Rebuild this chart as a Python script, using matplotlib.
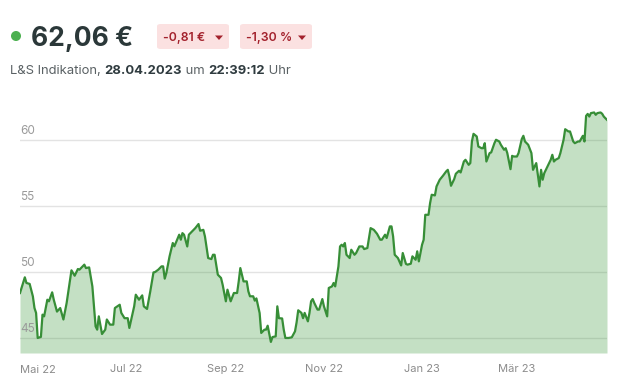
import matplotlib
matplotlib.use("Agg")
import matplotlib.pyplot as plt
from matplotlib.patches import FancyBboxPatch, Polygon, Circle
import pandas as pd

plt.rcParams['font.family'] = ['Inter', 'DejaVu Sans']

# Kursverlauf
dates = [
    "2022-04-26", "2022-04-29", "2022-04-30", "2022-05-02", "2022-05-04", "2022-05-05",
    "2022-05-06", "2022-05-07", "2022-05-09", "2022-05-10", "2022-05-11", "2022-05-13",
    "2022-05-14", "2022-05-16", "2022-05-17", "2022-05-19", "2022-05-21", "2022-05-23",
    "2022-05-25", "2022-05-28", "2022-05-30", "2022-06-01", "2022-06-02", "2022-06-05",
    "2022-06-06", "2022-06-08", "2022-06-10", "2022-06-12", "2022-06-13", "2022-06-14",
    "2022-06-16", "2022-06-18", "2022-06-19", "2022-06-21", "2022-06-23", "2022-06-24",
    "2022-06-27", "2022-06-28", "2022-06-30", "2022-07-02", "2022-07-03", "2022-07-06",
    "2022-07-07", "2022-07-09", "2022-07-11", "2022-07-12", "2022-07-14", "2022-07-16",
    "2022-07-18", "2022-07-19", "2022-07-21", "2022-07-23", "2022-07-24", "2022-07-25",
    "2022-07-26", "2022-07-28", "2022-07-30", "2022-07-31", "2022-08-03", "2022-08-04",
    "2022-08-05", "2022-08-06", "2022-08-08", "2022-08-09", "2022-08-11", "2022-08-13",
    "2022-08-15", "2022-08-16", "2022-08-18", "2022-08-19", "2022-08-21", "2022-08-23",
    "2022-08-24", "2022-08-25", "2022-08-27", "2022-08-29", "2022-08-30", "2022-09-01",
    "2022-09-02", "2022-09-04", "2022-09-06", "2022-09-08", "2022-09-09", "2022-09-10",
    "2022-09-12", "2022-09-14", "2022-09-15", "2022-09-16", "2022-09-18", "2022-09-19",
    "2022-09-20", "2022-09-22", "2022-09-23", "2022-09-25", "2022-09-26", "2022-09-27",
    "2022-09-29", "2022-09-30", "2022-10-02", "2022-10-03", "2022-10-04", "2022-10-06",
    "2022-10-07", "2022-10-08", "2022-10-10", "2022-10-12", "2022-10-14", "2022-10-15",
    "2022-10-16", "2022-10-18", "2022-10-19", "2022-10-20", "2022-10-22", "2022-10-23",
    "2022-10-24", "2022-10-25", "2022-10-26", "2022-10-28", "2022-10-29", "2022-10-31",
    "2022-11-01", "2022-11-03", "2022-11-04", "2022-11-06", "2022-11-07", "2022-11-08",
    "2022-11-10", "2022-11-11", "2022-11-12", "2022-11-13", "2022-11-14", "2022-11-15",
    "2022-11-17", "2022-11-18", "2022-11-20", "2022-11-21", "2022-11-23", "2022-11-25",
    "2022-11-26", "2022-11-28", "2022-11-30", "2022-12-02", "2022-12-04", "2022-12-06",
    "2022-12-07", "2022-12-09", "2022-12-10", "2022-12-12", "2022-12-13", "2022-12-14",
    "2022-12-15", "2022-12-17", "2022-12-19", "2022-12-20", "2022-12-22", "2022-12-23",
    "2022-12-25", "2022-12-26", "2022-12-28", "2022-12-29", "2022-12-30", "2023-01-01",
    "2023-01-02", "2023-01-03", "2023-01-05", "2023-01-06", "2023-01-07", "2023-01-09",
    "2023-01-10", "2023-01-12", "2023-01-14", "2023-01-16", "2023-01-17", "2023-01-18",
    "2023-01-19", "2023-01-21", "2023-01-22", "2023-01-24", "2023-01-25", "2023-01-27",
    "2023-01-28", "2023-01-30", "2023-01-31", "2023-02-01", "2023-02-02", "2023-02-04",
    "2023-02-05", "2023-02-07", "2023-02-08", "2023-02-09", "2023-02-10", "2023-02-12",
    "2023-02-13", "2023-02-15", "2023-02-16", "2023-02-18", "2023-02-19", "2023-02-21",
    "2023-02-22", "2023-02-23", "2023-02-25", "2023-02-26", "2023-02-27", "2023-03-01",
    "2023-03-02", "2023-03-04", "2023-03-05", "2023-03-06", "2023-03-08", "2023-03-10",
    "2023-03-11", "2023-03-13", "2023-03-14", "2023-03-15", "2023-03-16", "2023-03-17",
    "2023-03-18", "2023-03-20", "2023-03-22", "2023-03-23", "2023-03-24", "2023-03-25",
    "2023-03-27", "2023-03-28", "2023-03-30", "2023-03-31", "2023-04-02", "2023-04-03",
    "2023-04-05", "2023-04-06", "2023-04-08", "2023-04-09", "2023-04-11", "2023-04-12",
    "2023-04-13", "2023-04-14", "2023-04-15", "2023-04-16", "2023-04-18", "2023-04-19",
    "2023-04-20", "2023-04-22", "2023-04-23", "2023-04-24", "2023-04-26",
]
prices = [
    48.41, 49.60, 49.17, 49.10, 48.16, 47.27,
    46.90, 45.00, 45.08, 46.77, 46.64, 47.90,
    47.78, 48.46, 47.90, 47.00, 47.27, 46.40,
    47.65, 50.13, 49.72, 50.23, 50.18, 50.56,
    50.30, 50.35, 48.91, 45.88, 45.63, 46.64,
    45.30, 45.63, 46.40, 46.01, 46.01, 47.27,
    47.52, 46.90, 46.50, 46.50, 45.76, 47.40,
    48.28, 47.90, 48.23, 47.40, 47.20, 48.53,
    49.97, 50.00, 50.18, 50.43, 50.43, 49.50,
    49.92, 51.19, 52.20, 51.95, 52.83, 52.45,
    52.95, 52.83, 51.94, 52.83, 53.08, 53.33,
    53.64, 53.13, 53.20, 52.70, 51.06, 50.98,
    51.31, 51.31, 49.80, 49.55, 49.04, 47.78,
    48.66, 47.78, 48.41, 48.41, 49.29, 50.30,
    49.29, 49.29, 48.53, 48.16, 48.16, 47.83,
    48.00, 46.89, 45.38, 45.63, 45.63, 45.93,
    44.70, 45.07, 45.12, 47.40, 46.50, 46.48,
    45.63, 45.00, 45.00, 45.05, 45.50, 46.19,
    47.10, 46.90, 46.50, 46.90, 46.26, 46.90,
    47.78, 47.95, 47.65, 47.15, 47.15, 47.95,
    47.40, 46.64, 48.79, 48.91, 49.17, 48.91,
    50.43, 51.94, 52.07, 51.94, 52.20, 51.31,
    51.06, 51.69, 51.31, 51.44, 51.94, 51.94,
    51.74, 51.82, 53.33, 53.20, 52.90, 52.45,
    52.45, 52.83, 52.58, 53.46, 53.46, 52.70,
    51.31, 51.06, 50.50, 51.44, 50.61, 50.56,
    50.63, 51.19, 50.93, 51.57, 50.81, 52.07,
    52.45, 54.34, 54.34, 55.23, 55.86, 55.81,
    56.49, 57.00, 57.30, 57.63, 57.75, 57.25,
    56.54, 57.05, 57.45, 57.68, 57.55, 58.38,
    58.51, 58.13, 58.26, 59.90, 60.48, 60.28,
    59.52, 59.39, 59.39, 59.77, 58.38, 59.02,
    59.07, 59.77, 60.03, 59.90, 59.65, 59.27,
    59.39, 59.02, 57.80, 58.81, 58.76, 58.76,
    59.02, 60.08, 60.33, 59.90, 59.65, 59.02,
    57.75, 58.26, 57.37, 56.49, 57.75, 57.00,
    57.50, 58.00, 58.51, 58.89, 58.38, 58.51,
    58.64, 59.02, 60.03, 60.83, 60.66, 60.66,
    59.90, 59.77, 59.90, 59.90, 60.33, 59.90,
    61.84, 61.99, 61.79, 62.05, 62.10, 61.92,
    62.05, 62.10, 62.00, 61.79, 61.54,
]

tick_dates = ["2022-05-01", "2022-07-01", "2022-09-01", "2022-11-01", "2023-01-01", "2023-03-01"]
tick_labels = ["Mai 22", "Jul 22", "Sep 22", "Nov 22", "Jan 23", "Mär 23"]
y_ticks = [45, 50, 55, 60]

price_text = "62,06 €"
change_abs = "-0,81 €"
change_pct = "-1,30 %"
sub_parts = [("L&S Indikation, ", "normal"), ("28.04.2023", "bold"), (" um ", "normal"),
             ("22:39:12", "bold"), (" Uhr", "normal")]

W, H = 622, 383
x = pd.to_datetime(dates)

fig = plt.figure(figsize=(W / 100, H / 100), dpi=100)
ax = fig.add_axes([20 / W, (H - 353) / H, 587 / W, 259 / H])

ax.fill_between(x, prices, 43.86, color="#3d9a3d", alpha=0.3, lw=0, zorder=2)
ax.plot(x, prices, color="#378e37", lw=1.6, zorder=3, solid_joinstyle="round")

ax.set_xlim(x[0], x[-1])
ax.set_ylim(43.86, 63.5)
for v in y_ticks:
    ax.axhline(v, color="#e3e3e3", lw=1, zorder=1)
    ax.annotate(str(v), xy=(0, v), xycoords=("axes fraction", "data"), xytext=(0, 2),
                textcoords="offset points", va="bottom", ha="left",
                fontsize=8.5, color="#9a9a9a", zorder=4)
ax.set_yticks([])
ax.set_xticks(pd.to_datetime(tick_dates[1:]))
ax.set_xticklabels(tick_labels[1:])
ax.tick_params(axis="x", length=0, pad=8, labelsize=8, labelcolor="#8c8c8c")
ax.text(0, -0.045, tick_labels[0], transform=ax.transAxes, ha="left", va="top",
        fontsize=8, color="#8c8c8c")
for s in ax.spines.values():
    s.set_visible(False)


def fx(px):
    return px / W


def fy(py):
    return 1 - py / H


# Kopfzeile
fig.patches.append(Circle((16 / 100, (H - 36) / 100), 0.043, transform=fig.dpi_scale_trans,
                          color="#4cb050", zorder=5))
fig.text(fx(31), fy(36), price_text, fontsize=19, fontweight="bold", color="#2b3839",
         va="center_baseline", ha="left")

for bx, label, tx in [(157, change_abs, 215), (240, change_pct, 298)]:
    fig.patches.append(FancyBboxPatch((fx(bx), fy(49)), 72 / W, 25 / H,
                                      boxstyle="round,pad=0,rounding_size=0.006",
                                      transform=fig.transFigure, color="#fbe1e1", lw=0))
    fig.text(fx(bx + 6), fy(37), label, fontsize=8.8, fontweight="semibold",
             color="#a3222d", va="center_baseline", ha="left")
    fig.patches.append(Polygon([(fx(tx), fy(35.5)), (fx(tx + 8), fy(35.5)),
                                (fx(tx + 4), fy(40))], closed=True,
                               transform=fig.transFigure, color="#a3222d", lw=0))

fig.canvas.draw()
r = fig.canvas.get_renderer()
cx = 10
for txt, wt in sub_parts:
    t = fig.text(fx(cx), fy(74), txt, fontsize=9.4, fontweight=wt,
                 color="#2f3b3f" if wt == "bold" else "#5a6164", va="baseline", ha="left")
    bb = t.get_window_extent(renderer=r)
    cx += bb.width

fig.savefig("out.png", dpi=100)
